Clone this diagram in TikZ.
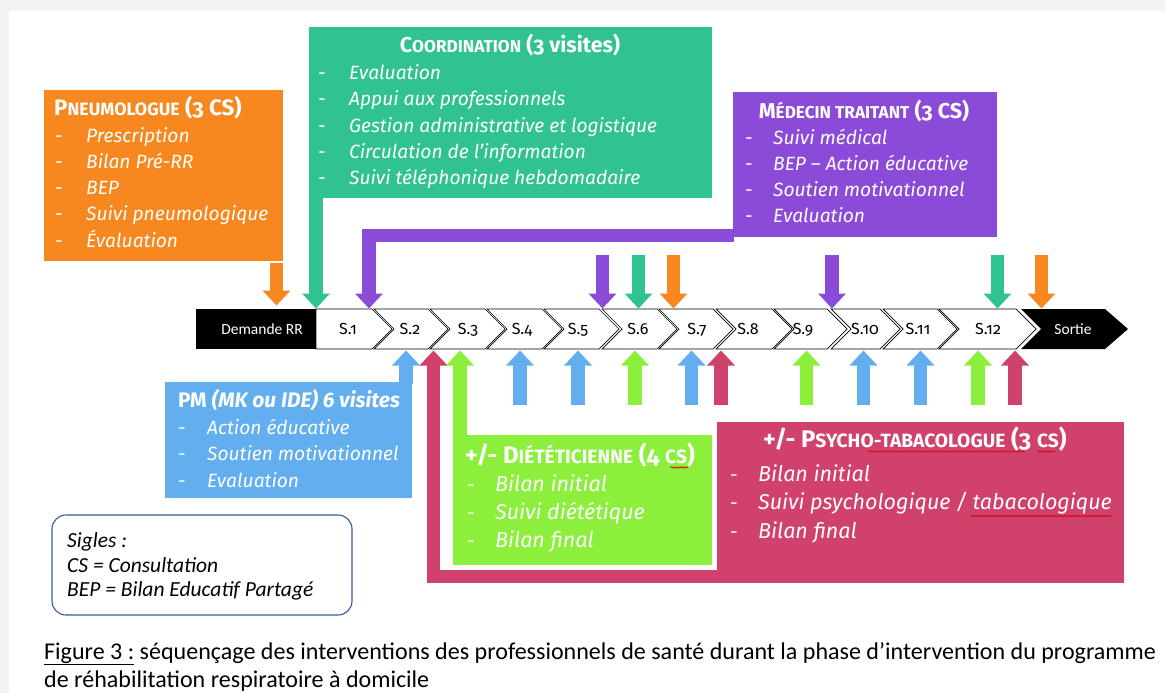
\documentclass[tikz,border=0pt]{standalone}
\usepackage{fontspec}
\usetikzlibrary{arrows.meta,decorations.pathmorphing,calc}
\newfontfamily\cand[Numbers=OldStyle]{Fira Sans}
\newfontfamily\calib{Carlito}
\definecolor{cOr}{HTML}{F7881F}
\definecolor{cCo}{HTML}{30C38F}
\definecolor{cPu}{HTML}{8B4AD8}
\definecolor{cBl}{HTML}{62AEEE}
\definecolor{cLi}{HTML}{8BEF3C}
\definecolor{cRe}{HTML}{D0426C}
\definecolor{cFr}{HTML}{3A5A9A}
\definecolor{cBg}{HTML}{F3F3F3}
\newcommand\sct[1]{\scalebox{0.8}{#1}}
\begin{document}
\begin{tikzpicture}[x=1pt,y=-1pt,
  box/.style={inner sep=0pt, outer sep=0pt, anchor=north west},
  itm/.style={inner sep=0pt, anchor=base west, text=white, font=\cand\itshape\fontsize{19.2}{22}\selectfont},
  itmL/.style={itm, font=\cand\itshape\fontsize{21.5}{24}\selectfont},
  dsh/.style={inner sep=0pt, anchor=base west, text=white, font=\cand\fontsize{19}{22}\selectfont},
  ttl/.style={inner sep=0pt, anchor=base west, text=white, font=\cand\bfseries\fontsize{21.5}{24}\selectfont},
  ttlL/.style={ttl, font=\cand\bfseries\fontsize{24}{26}\selectfont},
  stp/.style={inner sep=0pt, anchor=base, font=\cand\fontsize{16}{18}\selectfont},
  blk/.style={inner sep=0pt, anchor=base, text=white, font=\calib\fontsize{15.5}{17}\selectfont},
  sig/.style={inner sep=0pt, anchor=base west, font=\calib\itshape\fontsize{21.5}{24}\selectfont},
  captxt/.style={inner sep=0pt, anchor=base west, font=\calib\fontsize{24.05}{28}\selectfont},
  conn/.style={line width=13.5pt, line cap=butt, line join=miter, -{Triangle[length=15pt 0 0, width=27pt 0 0]}},
  seg/.style={fill=white, draw=black, line width=0.7pt, line join=miter},
  squig/.style={draw=red!85!black, line width=0.6pt, decorate, decoration={snake, amplitude=0.8pt, segment length=3pt}},
]
\useasboundingbox (0,0) rectangle (1165,693);
\fill[cBg] (0,0) rectangle (1165,693);
\fill[white] (9,11) rectangle (1165,693);

% ---------------- boxes
\node[box, fill=cOr, minimum width=239pt, minimum height=171pt] (pneu) at (44,90) {};
\node[box, fill=cCo, minimum width=403pt, minimum height=171pt] (coord) at (309,27) {};
\node[box, fill=cPu, minimum width=264pt, minimum height=145pt] (med) at (733,92) {};
\node[box, fill=cBl, minimum width=247pt, minimum height=116pt] (pm) at (165,382) {};
\node[box, fill=cLi, minimum width=259pt, minimum height=130pt] (diet) at (453,435) {};
\node[box, fill=cRe, minimum width=407pt, minimum height=161pt] (psy) at (717,422) {};
\node[box, draw=cFr, line width=1.1pt, rounded corners=14pt, minimum width=300pt, minimum height=100pt] (sig) at (52,515) {};

% ---------------- timeline
\fill[black] (196,309) rectangle (316,349);
\path[seg] (316,309) -- (372,309) -- (392,329) -- (372,349) -- (316,349) -- cycle;
\foreach \L/\R in {374/428,430/485,487/542,544/599,602/657,659/713,716/772,774/827,831/880,883/937,939/1016}{
  \path[seg] (\L,309) -- (\R,309) -- ({\R+20},329) -- (\R,349) -- (\L,349) -- ({\L+20},329) -- cycle;
}
\fill[black] (1021,309) -- (1105,309) -- (1128,329) -- (1105,349) -- (1021,349) -- (1041,329) -- cycle;
\node[blk] (dem) at (262,334.5) {Demande RR};
\node[blk] (sortie) at (1073,334.5) {Sortie};
\foreach \x [count=\i] in {348,410,468,522,578,638,697,748,803,865,918,988}{
  \node[stp] (s\i) at (\x,334.5) {S.\i};
}

% ---------------- connectors from boxes
\coordinate (tOr1) at (276.5,305.5);
\coordinate (tCo1) at (316,308.5);
\coordinate (tPu1) at (369,308.5);
\coordinate (tBl1) at (406,350.5);
\coordinate (tRe1) at (433.5,350.5);
\coordinate (tLi1) at (460,350.5);
\draw[conn, color=cOr] (pneu.south east) ++(-6.5,2) -- (tOr1);
\draw[conn, color=cCo] (coord.south west) ++(7,-2) -- (tCo1);
\draw[conn, color=cPu] (med.south west) ++(1,-1.5) -| (tPu1);
\draw[conn, color=cBl] (pm.north east) ++(-6,2) -- (tBl1);
\draw[conn, color=cRe] (psy.south west) ++(2,-6.5) -| (tRe1);
\draw[conn, color=cLi] (diet.north west) ++(7,2) -- (tLi1);

% ---------------- free arrows below (up)
\foreach \x/\c [count=\i] in {520/cBl,578/cBl,635/cLi,691.5/cBl,721/cRe,806.5/cLi,863.5/cBl,920.5/cBl,978/cLi,1015/cRe}{
  \coordinate (ub\i) at (\x,405);
  \coordinate (ut\i) at (\x,350.5);
  \draw[conn, color=\c] (ub\i) -- (ut\i);
}
% ---------------- free arrows above (down)
\foreach \x/\c [count=\i] in {602.5/cPu,638.5/cCo,673.5/cOr,832/cPu,997.5/cCo,1041.5/cOr}{
  \coordinate (db\i) at (\x,255);
  \coordinate (dt\i) at (\x,308.5);
  \draw[conn, color=\c] (db\i) -- (dt\i);
}

% ---------------- texts
\node[ttl, font=\cand\bfseries\fontsize{22.3}{24}\selectfont] (pn-t) at (54,115) {P\sct{NEUMOLOGUE} (3 CS)};
\foreach \t [count=\i from 0] in {Prescription,Bilan Pré-RR,BEP,Suivi pneumologique,Évaluation}{
  \node[dsh] (pn-d\i) at (55,{142+26.3*\i}) {-};
  \node[itm] (pn-\i) at (86,{142+26.3*\i}) {\t};
}
\node[ttl, anchor=base] (co-t) at (510,53) {C\sct{OORDINATION} (3 visites)};
\foreach \t [count=\i from 0] in {Evaluation,Appui aux professionnels,Gestion administrative et logistique,Circulation de l’information,Suivi téléphonique hebdomadaire}{
  \node[dsh] (co-d\i) at (318,{80+26*\i}) {-};
  \node[itm] (co-\i) at (349,{80+26*\i}) {\t};
}
\node[ttl, anchor=base] (me-t) at (864,118) {M\sct{ÉDECIN TRAITANT} (3 CS)};
\foreach \t [count=\i from 0] in {Suivi médical,BEP – Action éducative,Soutien motivationnel,Evaluation}{
  \node[dsh] (me-d\i) at (745,{144+26.3*\i}) {-};
  \node[itm] (me-\i) at (773,{144+26.3*\i}) {\t};
}
\node[ttl, font=\cand\bfseries\fontsize{21}{24}\selectfont] (pm-t) at (178,407) {PM \textit{(MK ou IDE) 6 visites}};
\foreach \t [count=\i from 0] in {Action éducative,Soutien motivationnel,Evaluation}{
  \node[dsh] (pm-d\i) at (178,{434+26.5*\i}) {-};
  \node[itm] (pm-\i) at (207,{434+26.5*\i}) {\t};
}
\node[ttlL] (di-t) at (465,463) {+/- D\sct{IÉTÉTICIENNE} (4 \sct{CS})};
\foreach \t [count=\i from 0] in {Bilan initial,Suivi diététique,Bilan final}{
  \node[dsh] (di-d\i) at (467,{491+28*\i}) {-};
  \node[itmL] (di-\i) at (495,{491+28*\i}) {\t};
}
\node[ttlL] (ps-t) at (763,447) {+/- P\sct{SYCHO-TABACOLOGUE} (3 \sct{CS})};
\foreach \t [count=\i from 0] in {Bilan initial,Suivi psychologique / tabacologique,Bilan final}{
  \node[dsh] (ps-d\i) at (730,{481+28.5*\i}) {-};
  \node[itmL] (ps-\i) at (758,{481+28.5*\i}) {\t};
}
% spell-check squiggles
\draw[squig] ($(di-t.base west)!0.893!(di-t.base east)+(0,4.5)$) -- ($(di-t.base west)!0.97!(di-t.base east)+(0,4.5)$);
\draw[squig] ($(ps-t.base west)!0.344!(ps-t.base east)+(0,4.5)$) -- ($(ps-t.base west)!0.86!(ps-t.base east)+(0,4.5)$);
\draw[squig] ($(ps-t.base west)!0.904!(ps-t.base east)+(0,4.5)$) -- ($(ps-t.base west)!0.962!(ps-t.base east)+(0,4.5)$);
\draw[squig] ($(ps-1.base west)!0.6!(ps-1.base east)+(0,6.5)$) -- ($(ps-1.base east)+(0,6.5)$);

% sigles
\node[sig] (sg1) at (67,547) {Sigles :};
\node[sig] (sg2) at (67,572) {CS = Consultation};
\node[sig] (sg3) at (67,596) {BEP = Bilan Educatif Partagé};

% caption
\node[captxt] (cap1) at (44,659) {\underline{Figure 3 :} séquençage des interventions des professionnels de santé durant la phase d’intervention du programme};
\node[captxt] (cap2) at (44,687) {de réhabilitation respiratoire à domicile};
\end{tikzpicture}
\end{document}
